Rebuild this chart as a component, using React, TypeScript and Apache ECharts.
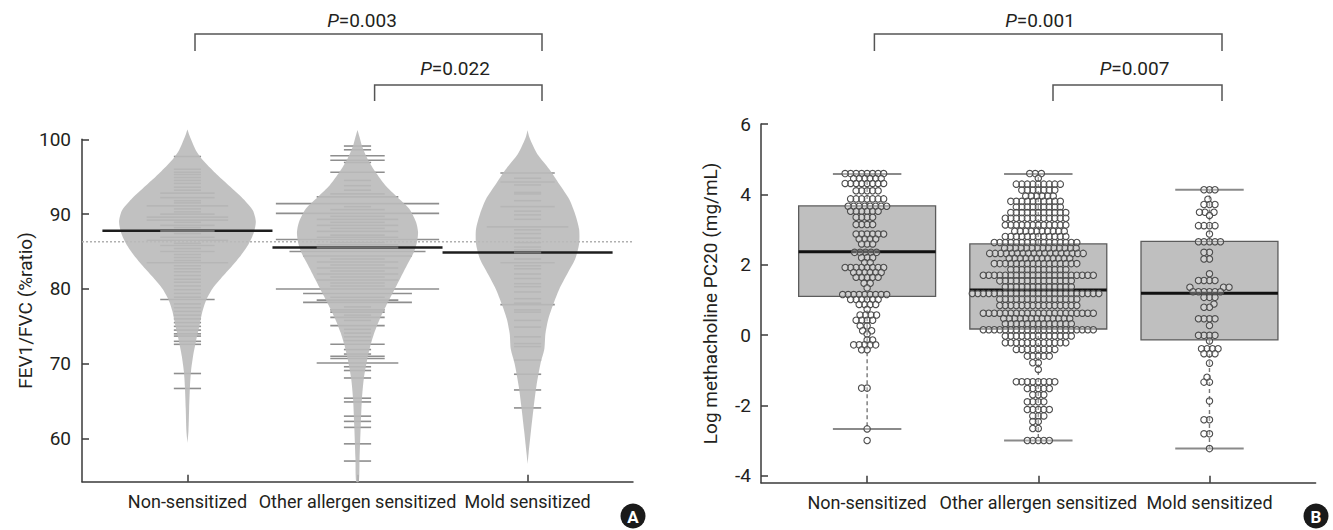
import React, { useEffect, useRef } from "react";
import * as echarts from "echarts";

// ---------------- shared ----------------
const groups = ["Non-sensitized", "Other allergen sensitized", "Mold sensitized"];
const groupPos = [1, 2, 3];
const xRange = [0.38, 3.62];

// ---------------- Panel A : FEV1/FVC bean plot ----------------
const fevTicks = [60, 70, 80, 90, 100];
const fevRange = [54.24, 100];
const fevMeans = [87.77, 85.54, 84.87];
const fevMeanTies = [2, 3, 1];
const fevOverallMean = 86.3;

// bean outline: [value, half width (x units)]
const beanNon: [number, number][] = [
  [101.3, 0], [100.5, 0.012], [99.5, 0.03], [98.5, 0.05], [97.5, 0.08], [96.5, 0.12], [95, 0.187],
  [93.5, 0.26], [92, 0.33], [90.5, 0.385], [89, 0.402], [87.5, 0.39], [86, 0.36], [84.5, 0.315],
  [83, 0.26], [81.5, 0.2], [80, 0.146], [78.5, 0.11], [77, 0.088], [75, 0.07], [73, 0.05],
  [71, 0.033], [69, 0.021], [67, 0.015], [64, 0.01], [61, 0.006], [59.4, 0],
];
const beanOther: [number, number][] = [
  [101.25, 0], [100.3, 0.012], [99.14, 0.026], [97.45, 0.058], [95.66, 0.105], [93.87, 0.163],
  [92.3, 0.233], [90.74, 0.303], [88.95, 0.344], [87.6, 0.356], [86.27, 0.35], [84.93, 0.332],
  [83.15, 0.29], [81.36, 0.25], [79.58, 0.21], [77.8, 0.169], [76, 0.131], [74.2, 0.1],
  [72.44, 0.076], [70.66, 0.058], [67.98, 0.037], [65.3, 0.026], [61.7, 0.019], [57.3, 0.012],
  [54.24, 0.008],
];
const beanMold: [number, number][] = [
  [101.2, 0], [100.3, 0.01], [99, 0.035], [98, 0.058], [96, 0.128], [94, 0.187], [92, 0.245],
  [90, 0.28], [88, 0.303], [86, 0.303], [84, 0.28], [82, 0.233], [80, 0.187], [78, 0.152],
  [76, 0.122], [74, 0.105], [72, 0.099], [70, 0.076], [67, 0.052], [64, 0.035], [61, 0.02],
  [58, 0.006], [56.6, 0],
];

// bean lines: [value, number of tied observations]
const linesNon: [number, number][] = [
  [97.7, 1], [96.0, 1], [95.6, 1], [95.3, 1], [94.9, 1], [94.5, 1], [94.1, 1], [93.6, 1], [93.2, 1],
  [92.8, 2], [92.2, 2], [91.8, 1], [91.5, 1], [91.1, 3], [90.7, 1], [90.3, 1], [90.0, 2], [89.6, 3],
  [89.2, 3], [88.9, 1], [88.5, 2], [88.2, 1], [87.4, 1], [86.9, 2], [86.5, 3], [86.1, 1],
  [85.8, 2], [85.4, 1], [85.0, 2], [84.6, 1], [84.2, 1], [83.8, 1], [83.5, 3], [83.1, 1], [82.7, 1],
  [82.3, 1], [81.8, 1], [81.3, 1], [80.9, 1], [80.4, 1], [79.9, 1], [79.4, 1], [78.9, 1], [78.6, 2],
  [78.0, 1], [77.5, 1], [77.0, 1], [76.5, 1], [76.0, 1], [75.5, 1], [75.0, 1], [74.5, 1], [74.0, 1],
  [73.7, 1], [73.0, 1], [72.6, 1], [68.7, 1], [66.7, 1],
];
const linesOther: [number, number][] = [
  [99.1, 1], [98.6, 1], [97.8, 2], [97.2, 2], [96.9, 1], [95.6, 2], [94.5, 1], [93.8, 1], [93.2, 1],
  [92.7, 2], [92.3, 3], [91.4, 6], [91.0, 1], [90.6, 2], [90.1, 6], [89.7, 2], [89.3, 3], [88.9, 2],
  [88.5, 3], [88.1, 2], [87.7, 3], [87.2, 2], [86.9, 3], [86.6, 6], [86.2, 2], [85.9, 3],
  [85.0, 5], [84.4, 4], [84.0, 2], [83.6, 3], [83.2, 2], [82.8, 3], [82.4, 2], [82.0, 3], [81.6, 2],
  [81.2, 3], [80.8, 2], [80.4, 2], [80.0, 6], [79.4, 4], [78.9, 2], [78.5, 3], [78.2, 4], [77.6, 1],
  [77.2, 2], [76.9, 2], [76.5, 1], [76.2, 2], [75.8, 1], [75.1, 2], [74.6, 1], [74.1, 1], [73.6, 1],
  [73.1, 1], [72.6, 2], [71.9, 1], [71.3, 1], [71.0, 2], [70.7, 2], [70.1, 3], [69.6, 1], [69.1, 1],
  [68.1, 1], [65.4, 1], [64.9, 1], [63.0, 1], [62.3, 1], [61.5, 1], [59.3, 1], [57.0, 1],
];
const linesMold: [number, number][] = [
  [95.5, 2], [94.8, 1], [94.3, 2], [93.9, 1], [92.9, 1], [92.7, 1], [91.8, 1], [91.0, 2], [90.4, 1],
  [89.9, 1], [89.3, 1], [88.3, 3], [87.9, 1], [87.4, 1], [86.8, 1], [86.2, 1], [85.6, 1], [85.2, 1],
  [84.0, 1], [83.5, 2], [83.1, 1], [82.7, 1], [82.0, 1], [81.4, 1], [80.7, 1], [80.3, 1], [79.6, 1],
  [78.7, 1], [78.1, 1], [77.9, 2], [77.2, 1], [76.9, 1], [75.8, 1], [74.9, 1], [73.6, 1], [72.7, 1],
  [72.3, 1], [70.5, 1], [68.6, 1], [66.5, 1], [64.1, 1],
];
const beans = [beanNon, beanOther, beanMold];
const beanLines = [linesNon, linesOther, linesMold];

// ---------------- Panel B : log methacholine PC20 ----------------
const pcTicks = [-4, -2, 0, 2, 4, 6];
const pcRange = [-4.2, 6];
// [lower whisker, Q1, median, Q3, upper whisker]
const pcBoxNon = [-2.67, 1.1, 2.37, 3.67, 4.58];
const pcBoxOther = [-3.0, 0.17, 1.28, 2.59, 4.58];
const pcBoxMold = [-3.23, -0.14, 1.19, 2.66, 4.13];
const pcBoxes = [pcBoxNon, pcBoxOther, pcBoxMold];

// swarm rows: [value, number of observations]
const pcNon: [number, number][] = [
  [4.59, 8], [4.45, 6], [4.31, 8], [4.1, 5], [3.87, 7], [3.66, 8], [3.52, 6], [3.35, 4], [3.14, 4],
  [2.87, 6], [2.73, 4], [2.59, 3], [2.35, 5], [2.2, 3], [2.06, 2], [1.92, 8], [1.78, 6], [1.64, 5],
  [1.47, 2], [1.34, 1], [1.15, 9], [1.01, 6], [0.87, 4], [0.73, 1], [0.57, 4], [0.42, 4],
  [0.26, 2], [0.12, 2], [0.03, 1], [-0.14, 2], [-0.28, 5], [-0.42, 2], [-1.51, 2], [-2.67, 1],
  [-3.0, 1],
];
const pcOther: [number, number][] = [
  [4.59, 3], [4.46, 1], [4.29, 9], [4.12, 7], [3.95, 6], [3.8, 10], [3.64, 9], [3.48, 11],
  [3.32, 12], [3.13, 12], [2.95, 10], [2.8, 12], [2.63, 16], [2.47, 14], [2.32, 18], [2.18, 12],
  [2.03, 16], [1.86, 11], [1.7, 21], [1.54, 14], [1.37, 13], [1.18, 24], [1.02, 15], [0.84, 15],
  [0.62, 21], [0.47, 13], [0.32, 13], [0.15, 21], [-0.03, 13], [-0.22, 12], [-0.41, 8], [-0.6, 5],
  [-0.79, 2], [-0.98, 1], [-1.33, 8], [-1.52, 5], [-1.7, 3], [-1.9, 4], [-2.12, 5], [-2.3, 3],
  [-2.46, 2], [-2.66, 2], [-3.0, 5],
];
const pcMold: [number, number][] = [
  [4.13, 3], [3.86, 1], [3.71, 3], [3.49, 3], [3.4, 1], [3.11, 4], [2.87, 1], [2.65, 5], [2.35, 2],
  [2.16, 2], [1.74, 1], [1.55, 4], [1.36, 3], [1.23, 6], [1.07, 3], [0.88, 1], [0.79, 2], [0.46, 4],
  [0.27, 1], [-0.01, 4], [-0.17, 1], [-0.39, 4], [-0.53, 3], [-0.8, 1], [-1.2, 1], [-1.34, 2],
  [-1.88, 1], [-2.41, 2], [-2.81, 2], [-3.23, 1],
];
const pcRows = [pcNon, pcOther, pcMold];

const pLabelsA = ["0.003", "0.022"];
const pLabelsB = ["0.001", "0.007"];

// ---------------- style ----------------
const FONT = "Roboto, 'Liberation Sans', sans-serif";
const FS = 19;
const FSX = 18;
const TXT = "#231f20";
const AX = "#3a3a3a";
const SEG = 0.16; // bean line length per observation
const SWARM_GAP = 5.5;

function swarm(ys: number[], d: number): number[] {
  const order = ys.map((_, i) => i).sort((a, b) => ys[b] - ys[a]);
  const placed: { x: number; y: number }[] = [];
  const xs = new Array(ys.length).fill(0);
  for (const i of order) {
    const y = ys[i];
    const iv: [number, number][] = [];
    for (const p of placed) {
      const dy = Math.abs(p.y - y);
      if (dy < d) {
        const dx = Math.sqrt(d * d - dy * dy);
        iv.push([p.x - dx, p.x + dx]);
      }
    }
    const cands = [0];
    for (const [a, b] of iv) cands.push(a, b);
    cands.sort((a, b) => Math.abs(a) - Math.abs(b) || a - b);
    let best = 0;
    for (const c of cands) {
      if (iv.every(([a, b]) => c <= a + 1e-6 || c >= b - 1e-6)) {
        best = c;
        break;
      }
    }
    xs[i] = best;
    placed.push({ x: best, y });
  }
  return xs;
}

function axisCommon(ticks: number[]) {
  return {
    axisLine: { show: true, onZero: false, lineStyle: { color: AX, width: 1.5 } },
    axisTick: { show: true, inside: true, length: 7, customValues: ticks, lineStyle: { color: AX, width: 1.5 } },
    splitLine: { show: false },
  };
}

function pText(x: number, y: number, val: string) {
  return {
    type: "text",
    x,
    y,
    style: {
      text: "{i|P}{n|=" + val + "}",
      align: "center",
      verticalAlign: "middle",
      rich: {
        i: { fontStyle: "italic", fontSize: FS, fontFamily: FONT, fill: TXT },
        n: { fontSize: FS, fontFamily: FONT, fill: TXT },
      },
    },
  };
}

function bracket(x1: number, x2: number, yTop: number, yBot: number) {
  return {
    type: "polyline",
    shape: { points: [[x1, yBot], [x1, yTop], [x2, yTop], [x2, yBot]] },
    style: { stroke: "#555", lineWidth: 1.5, fill: null },
  };
}

function badge(cx: number, cy: number, letter: string) {
  return [
    { type: "circle", shape: { cx, cy, r: 12.5 }, style: { fill: "#1a1a1a" } },
    {
      type: "text",
      x: cx,
      y: cy + 1,
      style: {
        text: letter,
        fill: "#fff",
        fontSize: 17,
        fontWeight: "bold",
        fontFamily: "Roboto, 'Liberation Sans', sans-serif",
        align: "center",
        verticalAlign: "middle",
      },
    },
  ];
}

export default function App() {
  const ref = useRef<HTMLDivElement>(null);
  useEffect(() => {
    if (!ref.current) return;
    const chart = echarts.init(ref.current, null, { renderer: "svg" });
    const groupData = groupPos.map((p, i) => [p, fevMeans[i]]);
    const groupDataB = groupPos.map((p, i) => [p, pcBoxes[i][2]]);

    const option: any = {
      animation: false,
      textStyle: { fontFamily: FONT },
      grid: [
        { left: 82, right: 700, top: 139.3, bottom: 48.3 },
        { left: 761, right: 17.4, top: 124, bottom: 47.3 },
      ],
      xAxis: [0, 1].map((gi) => ({
        type: "value",
        gridIndex: gi,
        min: xRange[0],
        max: xRange[1],
        ...axisCommon(groupPos),
        axisLabel: {
          show: true,
          customValues: groupPos,
          hideOverlap: false,
          showMinLabel: true,
          showMaxLabel: true,
          margin: 11,
          color: TXT,
          fontSize: FSX,
          fontFamily: FONT,
          formatter: (v: number) => groups[Math.round(v) - 1] ?? "",
        },
      })),
      yAxis: [
        {
          type: "value",
          gridIndex: 0,
          min: fevRange[0],
          max: fevRange[1],
          ...axisCommon(fevTicks),
          axisLabel: {
            show: true, customValues: fevTicks, showMinLabel: true, showMaxLabel: true,
            margin: 11, color: TXT, fontSize: FS, fontFamily: FONT,
          },
          name: "FEV1/FVC (%ratio)",
          nameLocation: "middle",
          nameGap: 45,
          nameRotate: 90,
          nameTextStyle: { color: TXT, fontSize: FS, fontFamily: FONT },
        },
        {
          type: "value",
          gridIndex: 1,
          min: pcRange[0],
          max: pcRange[1],
          ...axisCommon(pcTicks),
          axisLabel: {
            show: true, customValues: pcTicks, showMinLabel: true, showMaxLabel: true,
            margin: 10, color: TXT, fontSize: FS, fontFamily: FONT,
          },
          name: "Log methacholine PC20 (mg/mL)",
          nameLocation: "middle",
          nameGap: 41,
          nameRotate: 90,
          nameTextStyle: { color: TXT, fontSize: FS, fontFamily: FONT },
        },
      ],
      series: [
        {
          type: "line",
          xAxisIndex: 0,
          yAxisIndex: 0,
          z: 1,
          symbol: "none",
          silent: true,
          data: [
            [xRange[0], fevOverallMean],
            [xRange[1], fevOverallMean],
          ],
          lineStyle: { color: "#b0b0b0", width: 1.5, type: [2, 2] },
        },
        {
          type: "custom",
          xAxisIndex: 0,
          yAxisIndex: 0,
          z: 2,
          clip: false,
          data: groupData,
          renderItem: (params: any, api: any) => {
            const g = params.dataIndex;
            const c = groupPos[g];
            const children = beanLines[g].map(([v, n]) => {
              const a = api.coord([c - (n * SEG) / 2, v]);
              const b = api.coord([c + (n * SEG) / 2, v]);
              return {
                type: "line",
                shape: { x1: a[0], y1: a[1], x2: b[0], y2: b[1] },
                style: { stroke: "#8e8e8e", lineWidth: 1.6 },
              };
            });
            return { type: "group", children };
          },
        },
        {
          type: "custom",
          xAxisIndex: 0,
          yAxisIndex: 0,
          z: 3,
          clip: false,
          data: groupData,
          renderItem: (params: any, api: any) => {
            const g = params.dataIndex;
            const c = groupPos[g];
            const prof = beans[g];
            const right = prof.map(([v, w]) => api.coord([c + w, v]));
            const left = prof
              .slice()
              .reverse()
              .map(([v, w]) => api.coord([c - w, v]));
            return {
              type: "polygon",
              shape: { points: right.concat(left), smooth: 0.25 },
              style: { fill: "rgba(186,186,186,0.9)", stroke: null },
            };
          },
        },
        {
          type: "custom",
          xAxisIndex: 0,
          yAxisIndex: 0,
          z: 4,
          clip: false,
          data: groupData,
          renderItem: (params: any, api: any) => {
            const g = params.dataIndex;
            const c = groupPos[g];
            const m = fevMeans[g];
            const a = api.coord([c - 0.5, m]);
            const b = api.coord([c + 0.5, m]);
            const hw = (fevMeanTies[g] * SEG) / 2;
            const a2 = api.coord([c - hw, m]);
            const b2 = api.coord([c + hw, m]);
            return {
              type: "group",
              children: [
                { type: "line", shape: { x1: a[0], y1: a[1], x2: b[0], y2: b[1] }, style: { stroke: "#1e1e1e", lineWidth: 2.4 } },
                { type: "line", shape: { x1: a2[0], y1: a2[1], x2: b2[0], y2: b2[1] }, style: { stroke: "#6c6c6c", lineWidth: 2.4 } },
              ],
            };
          },
        },
        // Panel B boxes
        {
          type: "custom",
          xAxisIndex: 1,
          yAxisIndex: 1,
          z: 2,
          clip: false,
          data: groupDataB,
          renderItem: (params: any, api: any) => {
            const g = params.dataIndex;
            const c = groupPos[g];
            const [lo, q1, med, q3, hi] = pcBoxes[g];
            const tl = api.coord([c - 0.4, q3]);
            const br = api.coord([c + 0.4, q1]);
            const m1 = api.coord([c - 0.4, med]);
            const m2 = api.coord([c + 0.4, med]);
            const pHi = api.coord([c, hi]);
            const pLo = api.coord([c, lo]);
            const capL = api.coord([c - 0.2, hi]);
            const capR = api.coord([c + 0.2, hi]);
            const capL2 = api.coord([c - 0.2, lo]);
            const capR2 = api.coord([c + 0.2, lo]);
            const dash = { stroke: "#777", lineWidth: 1.4, lineDash: [4, 3] };
            const cap = { stroke: "#8a8a8a", lineWidth: 2 };
            return {
              type: "group",
              children: [
                { type: "line", shape: { x1: pHi[0], y1: tl[1], x2: pHi[0], y2: pHi[1] }, style: dash },
                { type: "line", shape: { x1: pLo[0], y1: br[1], x2: pLo[0], y2: pLo[1] }, style: dash },
                {
                  type: "rect",
                  shape: { x: tl[0], y: tl[1], width: br[0] - tl[0], height: br[1] - tl[1] },
                  style: { fill: "#bfbfbf", stroke: "#5c5c5c", lineWidth: 1.3 },
                },
                { type: "line", shape: { x1: m1[0], y1: m1[1], x2: m2[0], y2: m2[1] }, style: { stroke: "#111", lineWidth: 3 } },
                { type: "line", shape: { x1: capL[0], y1: capL[1], x2: capR[0], y2: capR[1] }, style: cap },
                { type: "line", shape: { x1: capL2[0], y1: capL2[1], x2: capR2[0], y2: capR2[1] }, style: cap },
              ],
            };
          },
        },
        // Panel B swarm
        {
          type: "custom",
          xAxisIndex: 1,
          yAxisIndex: 1,
          z: 3,
          clip: false,
          data: groupDataB,
          renderItem: (params: any, api: any) => {
            const g = params.dataIndex;
            const c = groupPos[g];
            const vals: number[] = [];
            pcRows[g].forEach(([v, n]) => {
              for (let k = 0; k < n; k++) vals.push(v);
            });
            const pts = vals.map((v) => api.coord([c, v]));
            const xs = swarm(
              pts.map((p: number[]) => p[1]),
              SWARM_GAP
            );
            return {
              type: "group",
              children: pts.map((p: number[], i: number) => ({
                type: "circle",
                shape: { cx: p[0] + xs[i], cy: p[1], r: 3.2 },
                style: { fill: "rgba(255,255,255,0.3)", stroke: "#4d4d4d", lineWidth: 1.1 },
              })),
            };
          },
        },
      ],
      graphic: [
        bracket(195, 542, 34, 51),
        pText(362, 20, pLabelsA[0]),
        bracket(374.6, 542, 85, 101),
        pText(455, 68, pLabelsA[1]),
        bracket(874.4, 1222, 34, 51),
        pText(1040, 20, pLabelsB[0]),
        bracket(1053, 1222, 85, 101),
        pText(1134.5, 68, pLabelsB[1]),
        ...badge(633, 516, "A"),
        ...badge(1316, 516, "B"),
      ],
    };
    chart.setOption(option);
    return () => chart.dispose();
  }, []);
  return <div ref={ref} style={{ position: "absolute", left: 0, top: 0, width: 1333, height: 530 }} />;
}
